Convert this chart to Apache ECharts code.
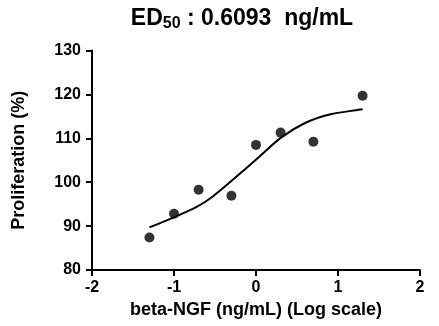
<!DOCTYPE html>
<html>
<head>
<meta charset="utf-8">
<script src="https://cdn.jsdelivr.net/npm/echarts@6/dist/echarts.min.js"></script>
<style>
  html, body { margin: 0; padding: 0; background: #fff; }
  #chart { width: 439px; height: 326px; }
</style>
</head>
<body>
<div id="chart"></div>
<script>
// Measured proliferation at each log10 concentration
const logDose = [-1.3, -1.0, -0.7, -0.3, 0.0, 0.3, 0.7, 1.3];
const proliferation = [87.4, 92.8, 98.3, 96.9, 108.5, 111.3, 109.2, 119.7];

// Fitted dose-response curve, sampled along the x range
const fitX = [-1.3, -1.0, -0.73, -0.53, -0.33, -0.12, 0.04, 0.3, 0.61, 0.91, 1.22, 1.3];
const fitY = [89.7, 92.0, 94.3, 96.7, 99.8, 103.2, 105.8, 110.1, 113.6, 115.5, 116.4, 116.6];

// Axis ticks
const xTicks = [-2, -1, 0, 1, 2];
const yTicks = [80, 90, 100, 110, 120, 130];

const font = '"Liberation Sans", Arial, sans-serif';
const chart = echarts.init(document.getElementById('chart'), null, { renderer: 'canvas' });

const pts = logDose.map((x, i) => [x, proliferation[i]]);
const fit = fitX.map((x, i) => [x, fitY[i]]);

chart.setOption({
  animation: false,
  backgroundColor: '#ffffff',
  title: {
    text: '{a|ED}{s|50}{a| : 0.6093  ng/mL}',
    left: 237,
    top: 1,
    textAlign: 'center',
    textStyle: {
      rich: {
        a: { fontFamily: font, fontWeight: 'bold', fontSize: 23, color: '#000', lineHeight: 26 },
        s: { fontFamily: font, fontWeight: 'bold', fontSize: 16, color: '#000', lineHeight: 26, padding: [10, 0, 0, 0] }
      }
    }
  },
  grid: { left: 92, right: 19, top: 50.5, bottom: 56 },
  xAxis: {
    type: 'value',
    min: xTicks[0],
    max: xTicks[xTicks.length - 1],
    interval: 1,
    name: 'beta-NGF (ng/mL) (Log scale)',
    nameLocation: 'middle',
    nameGap: 25,
    nameTextStyle: { fontFamily: font, fontWeight: 'bold', fontSize: 18, color: '#000' },
    axisLine: { onZero: false, lineStyle: { color: '#000', width: 2 } },
    axisTick: { show: true, length: 6, lineStyle: { color: '#000', width: 2 } },
    axisLabel: { fontFamily: font, fontWeight: 'bold', fontSize: 16, color: '#000', margin: 10 },
    splitLine: { show: false }
  },
  yAxis: {
    type: 'value',
    min: yTicks[0],
    max: yTicks[yTicks.length - 1],
    interval: 10,
    name: 'Proliferation (%)',
    nameLocation: 'middle',
    nameGap: 64,
    nameTextStyle: { fontFamily: font, fontWeight: 'bold', fontSize: 18, color: '#000' },
    axisLine: { show: true, onZero: false, lineStyle: { color: '#000', width: 2 } },
    axisTick: { show: true, length: 6, lineStyle: { color: '#000', width: 2 } },
    axisLabel: { fontFamily: font, fontWeight: 'bold', fontSize: 16, color: '#000', margin: 11 },
    splitLine: { show: false }
  },
  series: [
    {
      type: 'line',
      data: fit,
      smooth: 0.25,
      showSymbol: false,
      lineStyle: { color: '#000', width: 2 },
      z: 2
    },
    {
      type: 'scatter',
      data: pts,
      symbol: 'circle',
      symbolSize: 10,
      itemStyle: { color: '#000' },
      z: 3
    }
  ]
});
</script>
</body>
</html>
